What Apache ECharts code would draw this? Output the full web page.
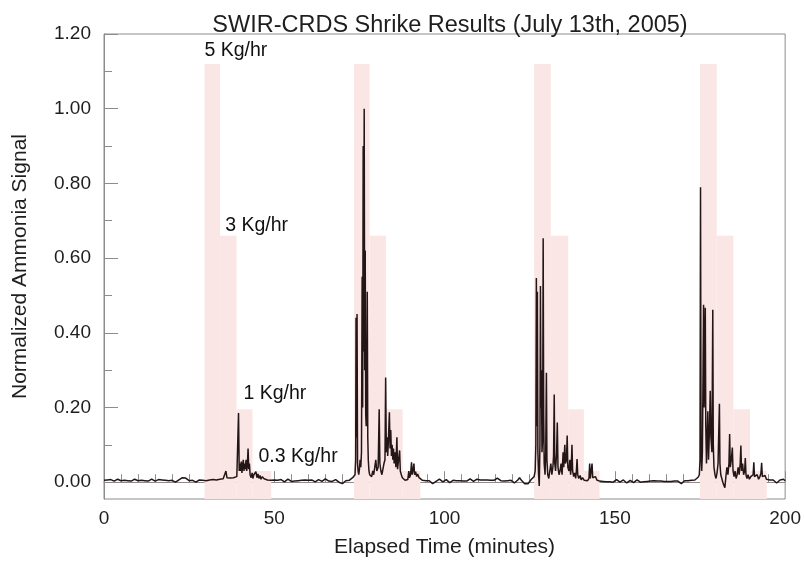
<!DOCTYPE html>
<html>
<head>
<meta charset="utf-8">
<script src="https://cdn.jsdelivr.net/npm/echarts@6/dist/echarts.min.js"></script>
<style>html,body{margin:0;padding:0;background:#fff;}#c{width:804px;height:563px;}</style>
</head>
<body>
<div id="c"></div>
<script>
// ---- data (minutes, normalized signal) ----
const quiet0 = [[0,0.005],[0.5,0.003],[1,0.006],[1.5,0.004],[2,0.007],[2.5,0.005],[3,0.003],[3.5,0.006],[4,0.008],[4.5,0.005],[5,0.004],[5.5,0.007],[6,0.005],[6.5,0.002],[7,0.004],[7.5,0.006],[8,0.003],[8.5,0.005],[9,0.008],[9.5,0.006],[10,0.004],[10.5,0.002],[11,0.005],[11.5,0.007],[12,0.004],[12.5,0.001],[13,0.003],[13.5,0.006],[14,0.008],[14.5,0.005],[15,0.003],[15.5,0.005],[16,0.007],[16.5,0.010],[17,0.006],[17.5,0.003],[18,0.005],[18.5,0.002],[19,0.004],[19.5,0.007],[20,0.005],[20.5,0.002],[21,0.000],[21.5,0.003],[22,0.006],[22.5,0.009],[23,0.012],[23.5,0.015],[24,0.011],[24.5,0.007],[25,0.004],[25.5,0.002],[26,0.005],[26.5,0.003],[27,0.000],[27.5,0.004],[28,0.006],[28.5,0.003],[29,0.005]];
const release1 = [[29.5,0.006],[30,0.004],[30.5,0.008],[31,0.006],[31.5,0.003],[32,0.007],[32.5,0.010],[33,0.006],[33.5,0.004],[34,0.008],[34.5,0.005],[35,0.009],[35.5,0.014],[35.8,0.030],[36.1,0.012],[36.5,0.008],[37,0.011],[37.5,0.007],[38,0.012],[38.5,0.009],[39,0.015],[39.3,0.020],[39.5,0.185],[39.7,0.030],[39.9,0.050],[40.1,0.030],[40.3,0.055],[40.5,0.025],[40.7,0.045],[40.9,0.060],[41.1,0.030],[41.3,0.050],[41.5,0.035],[41.7,0.060],[41.9,0.030],[42.1,0.045],[42.3,0.090],[42.5,0.035],[42.7,0.050],[42.9,0.020],[43.2,0.012],[43.5,0.025],[43.7,0.010],[44,0.020],[44.3,0.015],[44.6,0.028],[44.9,0.012],[45.2,0.022],[45.5,0.010],[45.8,0.018],[46.1,0.008],[46.5,0.015],[47,0.009],[47.5,0.012],[48,0.006],[48.5,0.010],[49,0.005],[49.5,0.008]];
const quiet1 = [[50,0.006],[50.5,0.009],[51,0.005],[51.5,0.003],[52,0.007],[52.5,0.004],[53,0.001],[53.5,0.005],[54,0.008],[54.5,0.004],[55,0.002],[55.5,0.006],[56,0.003],[56.5,0.000],[57,0.004],[57.5,0.007],[58,0.005],[58.5,0.002],[59,0.006],[59.5,0.009],[60,0.005],[60.5,0.003],[61,0.006],[61.5,0.004],[62,0.001],[62.5,0.004],[63,0.007],[63.5,0.004],[64,0.002],[64.5,0.005],[65,0.009],[65.5,0.006],[66,0.003],[66.5,0.005],[67,0.002],[67.5,0.004],[68,0.007],[68.5,0.003],[69,0.000],[69.5,-0.003],[70,-0.004],[70.5,0.000],[71,0.004],[71.5,0.007],[72,0.005],[72.5,0.009],[73,0.012]];
const release2 = [[73.4,0.015],[73.7,0.020],[73.9,0.060],[74.0,0.440],[74.15,0.120],[74.3,0.450],[74.45,0.050],[74.6,0.030],[74.8,0.020],[75.0,0.035],[75.2,0.060],[75.4,0.040],[75.6,0.080],[75.8,0.550],[75.95,0.200],[76.1,0.900],[76.25,0.350],[76.4,1.000],[76.55,0.300],[76.7,0.620],[76.85,0.180],[77.0,0.150],[77.15,0.250],[77.3,0.510],[77.45,0.120],[77.6,0.060],[77.8,0.030],[78.0,0.020],[78.3,0.025],[78.6,0.015],[78.9,0.030],[79.2,0.020],[79.5,0.040],[79.8,0.060],[80.1,0.030],[80.5,0.040],[80.8,0.195],[81.0,0.050],[81.3,0.030],[81.6,0.020],[81.9,0.035],[82.2,0.050],[82.5,0.060],[82.7,0.280],[82.9,0.080],[83.1,0.120],[83.3,0.070],[83.5,0.110],[83.8,0.187],[84.0,0.090],[84.2,0.140],[84.4,0.070],[84.6,0.100],[84.8,0.060],[85.0,0.090],[85.2,0.050],[85.5,0.080],[85.7,0.040],[86.0,0.120],[86.2,0.035],[86.5,0.060],[86.8,0.085],[87.0,0.030],[87.3,0.020],[87.6,0.012],[88.0,0.008],[88.4,0.005],[88.8,0.010],[89.2,0.007],[89.5,0.030],[89.7,0.012],[90.0,0.020],[90.3,0.053],[90.5,0.020],[90.8,0.035],[91.0,0.050],[91.2,0.020],[91.5,0.028],[91.8,0.015],[92.1,0.022],[92.5,0.012],[93,0.008]];
const quiet2 = [[93.5,0.005],[94,0.008],[94.5,0.004],[95,0.001],[95.5,0.004],[96,0.000],[96.5,-0.004],[97,-0.002],[97.5,0.002],[98,0.005],[98.5,0.008],[99,0.004],[99.5,0.001],[100,0.005],[100.5,0.007],[101,0.003],[101.5,-0.001],[102,0.002],[102.5,0.005],[103,0.008],[103.5,0.004],[104,0.001],[104.5,0.004],[105,0.007],[105.5,0.003],[106,0.000],[106.5,0.003],[107,0.006],[107.5,0.009],[108,0.005],[108.5,0.002],[109,0.005],[109.5,0.008],[110,0.004],[110.5,0.006],[111,0.010],[111.5,0.006],[112,0.003],[112.5,0.006],[113,0.009],[113.5,0.005],[114,0.002],[114.5,0.005],[115,0.008],[115.5,0.011],[116,0.007],[116.5,0.004],[117,0.007],[117.5,0.003],[118,0.000],[118.5,0.004],[119,0.008],[119.5,0.005],[120,0.002],[120.5,-0.002],[121,0.001],[121.5,0.006],[122,0.012],[122.5,0.006],[123,0.002],[123.5,-0.004],[124,-0.008],[124.5,-0.004],[125,0.002],[125.5,0.008],[126,0.012]];
const release3 = [[126.3,0.015],[126.6,0.030],[126.8,0.100],[126.95,0.547],[127.1,0.150],[127.25,0.510],[127.4,0.080],[127.6,0.020],[127.8,-0.010],[128.0,0.100],[128.15,0.525],[128.3,0.200],[128.45,0.300],[128.6,0.080],[128.8,0.120],[128.95,0.653],[129.1,0.180],[129.25,0.050],[129.5,0.020],[129.7,0.080],[129.9,0.293],[130.05,0.060],[130.3,0.020],[130.6,0.010],[130.9,0.030],[131.2,0.050],[131.5,0.020],[131.8,0.040],[132.0,0.070],[132.2,0.235],[132.35,0.050],[132.6,0.030],[132.9,0.080],[133.1,0.160],[133.3,0.040],[133.6,0.020],[133.9,0.030],[134.2,0.050],[134.5,0.020],[134.8,0.080],[135.0,0.040],[135.3,0.100],[135.5,0.050],[135.8,0.060],[136.0,0.125],[136.2,0.040],[136.5,0.030],[136.8,0.060],[137.0,0.020],[137.2,0.040],[137.4,0.100],[137.6,0.030],[137.9,0.015],[138.2,0.025],[138.5,0.010],[138.7,0.030],[138.9,0.062],[139.1,0.020],[139.4,0.010],[139.8,0.018],[140.1,0.006],[140.5,0.012],[141,0.005],[141.5,0.009],[142,0.004],[142.4,0.010],[142.6,0.050],[142.8,0.010],[143.1,0.015],[143.3,0.050],[143.5,0.012],[143.9,0.008],[144.3,0.015],[144.7,0.006],[145.1,0.010],[145.5,0.003]];
const quiet3 = [[146,0.006],[146.5,0.002],[147,-0.002],[147.5,0.001],[148,0.004],[148.5,0.001],[149,-0.003],[149.5,0.000],[150,0.004],[150.5,0.007],[151,0.003],[151.5,0.000],[152,0.003],[152.5,0.006],[153,0.002],[153.5,-0.002],[154,0.001],[154.5,0.005],[155,0.002],[155.5,-0.001],[156,0.003],[156.5,0.006],[157,0.003],[157.5,0.000],[158,-0.003],[158.5,0.001],[159,0.005],[159.5,0.002],[160,0.006],[160.5,0.003],[161,0.000],[161.5,0.004],[162,0.007],[162.5,0.003],[163,0.000],[163.5,0.003],[164,0.006],[164.5,0.002],[165,-0.002],[165.5,0.002],[166,0.005],[166.5,0.002],[167,0.006],[167.5,0.003],[168,-0.001],[168.5,0.003],[169,0.000],[169.5,-0.004],[170,0.000],[170.5,0.004],[171,0.008],[171.5,0.004],[172,0.001],[172.5,0.005],[173,0.009],[173.5,0.006],[174,0.010],[174.5,0.014]];
const release4 = [[174.8,0.020],[175.0,0.060],[175.15,0.790],[175.3,0.100],[175.5,0.030],[175.7,0.080],[175.9,0.300],[176.05,0.475],[176.2,0.200],[176.4,0.350],[176.55,0.467],[176.7,0.150],[176.9,0.050],[177.1,0.120],[177.3,0.190],[177.5,0.060],[177.8,0.150],[178.0,0.245],[178.2,0.120],[178.5,0.080],[178.75,0.462],[178.9,0.100],[179.1,0.040],[179.4,0.020],[179.7,0.010],[180.0,0.025],[180.3,0.050],[180.7,0.210],[180.85,0.050],[181.1,0.020],[181.4,0.010],[181.7,0.000],[182.0,-0.008],[182.3,-0.015],[182.6,0.015],[182.9,0.040],[183.2,0.020],[183.5,0.050],[183.7,0.129],[183.9,0.040],[184.2,0.060],[184.5,0.093],[184.7,0.030],[185.0,0.015],[185.3,0.030],[185.6,0.010],[185.9,0.020],[186.2,0.040],[186.5,0.020],[186.8,0.050],[187.0,0.098],[187.2,0.030],[187.5,0.050],[187.8,0.020],[188.1,0.030],[188.3,0.065],[188.5,0.020],[188.8,0.010],[189.1,0.020],[189.5,0.008],[189.9,0.015],[190.3,0.010],[190.6,0.020],[190.8,0.053],[191.0,0.015],[191.4,0.010],[191.8,0.020],[192.2,0.008],[192.6,0.015],[192.9,0.025],[193.1,0.052],[193.3,0.015],[193.7,0.010],[194.1,0.018],[194.5,0.008]];
const quiet4 = [[195,0.012],[195.5,0.006],[196,0.002],[196.5,0.006],[197,0.003],[197.5,-0.002],[198,0.002],[198.5,0.006],[199,0.002],[199.5,0.008],[200,0.004]];

// release schedule: step boundaries (minutes) for each of the four releases
const stepEdges = [
  [29.5, 34.1, 38.9, 43.6, 49.1],
  [73.4, 78.0, 82.8, 87.7, 92.9],
  [126.3, 131.2, 136.3, 140.9, 145.5],
  [175.0, 179.9, 184.8, 189.7, 194.6]
];
const stepRates = ['5 Kg/hr', '3 Kg/hr', '1 Kg/hr', '0.3 Kg/hr'];
const stepLevels = [1.12, 0.66, 0.195, 0.03];

const yLabelTicks = [0, 0.2, 0.4, 0.6, 0.8, 1.0, 1.2];
const yMinorTicks = [0, 0.1, 0.2, 0.3, 0.4, 0.5, 0.6, 0.7, 0.8, 0.9, 1.0, 1.1, 1.2];
const Y_MIN = -0.045, Y_MAX = 1.2;

// ---- layout (pixel offsets of the rate labels from their step corner) ----
const labelOffsets = [[0, -23], [5, -20], [7, -26], [6, -24]];

// ---- build ----
const signal = [].concat(quiet0, release1, quiet1, release2, quiet2, release3, quiet3, release4, quiet4);
const areas = [];
stepEdges.forEach(function (e) {
  for (let i = 0; i < stepLevels.length; i++) {
    areas.push([{ xAxis: e[i], yAxis: Y_MIN }, { xAxis: e[i + 1], yAxis: stepLevels[i] }]);
  }
});
const FONT = 'Liberation Sans, Arial, sans-serif';
const labelPts = stepRates.map(function (r, i) {
  return {
    value: [stepEdges[0][i], stepLevels[i]], name: r,
    label: { position: labelOffsets[i] }
  };
});

const axisGray = '#8c8c8c';
const chart = echarts.init(document.getElementById('c'), null, { renderer: 'canvas' });
chart.setOption({
  animation: false,
  backgroundColor: '#fff',
  title: {
    text: 'SWIR-CRDS Shrike Results (July 13th, 2005)',
    left: 445, top: 9, textAlign: 'center',
    textStyle: { fontFamily: FONT, fontSize: 23.5, fontWeight: 'normal', color: '#1e1e1e' }
  },
  grid: { left: 104, right: 16, top: 34, bottom: 61, show: true, borderColor: axisGray, borderWidth: 1 },
  xAxis: {
    type: 'value', min: 0, max: 200, interval: 50,
    name: 'Elapsed Time (minutes)', nameLocation: 'middle', nameGap: 38,
    nameTextStyle: { fontFamily: FONT, fontSize: 21, color: '#1e1e1e' },
    axisLine: { lineStyle: { color: axisGray } },
    axisTick: { inside: true, length: 11, lineStyle: { color: axisGray } },
    minorTick: { show: true, splitNumber: 10, length: 8, lineStyle: { color: axisGray } },
    splitLine: { show: false },
    axisLabel: { fontFamily: FONT, fontSize: 19, color: '#1e1e1e', margin: 10 }
  },
  yAxis: [{
    type: 'value', min: Y_MIN, max: Y_MAX, position: 'left',
    name: 'Normalized Ammonia Signal', nameLocation: 'middle', nameGap: 73, nameRotate: 90,
    nameTextStyle: { fontFamily: FONT, fontSize: 21, color: '#1e1e1e' },
    axisLine: { show: true, lineStyle: { color: axisGray } },
    axisTick: { show: true, inside: true, length: 8, customValues: yMinorTicks, lineStyle: { color: axisGray } },
    splitLine: { show: false },
    axisLabel: { show: false }
  }, {
    type: 'value', min: Y_MIN, max: Y_MAX, position: 'left', offset: 0,
    axisLine: { show: false },
    axisTick: { show: true, inside: true, length: 14, customValues: yLabelTicks, lineStyle: { color: axisGray } },
    splitLine: { show: false },
    axisLabel: {
      customValues: yLabelTicks, fontFamily: FONT, fontSize: 19, color: '#1e1e1e', margin: 13,
      padding: [4, 0, 0, 0],
      formatter: function (v) { return v.toFixed(2); }
    }
  }],
  series: [{
    type: 'line', data: [], silent: true,
    markArea: { silent: true, itemStyle: { color: '#fbe6e6' }, data: areas },
    z: 1
  }, {
    type: 'line', data: signal, showSymbol: false, symbol: 'none', sampling: false,
    lineStyle: { color: '#241617', width: 1.5 }, z: 3, silent: true
  }, {
    type: 'scatter', data: labelPts, symbolSize: 0, z: 4, silent: true,
    itemStyle: { opacity: 1 },
    label: {
      show: true, formatter: '{b}',
      fontFamily: FONT, fontSize: 19.5, color: '#111', opacity: 1
    }
  }]
});
</script>
</body>
</html>
